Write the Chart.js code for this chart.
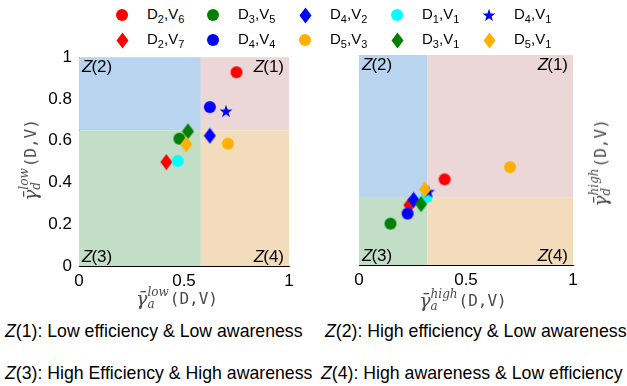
<!DOCTYPE html>
<html>
<head>
<meta charset="utf-8">
<script src="https://cdn.jsdelivr.net/npm/chart.js@4"></script>
<style>
  body { margin: 0; background: #fff; width: 627px; height: 386px; position: relative; overflow: hidden; font-family: 'Liberation Sans', Arial, sans-serif; }
  canvas.chart { position: absolute; }
  .leg { position: absolute; font-size: 15px; color: #000; line-height: 15px; }
  .leg sub { font-size: 11px; vertical-align: -4px; line-height: 0; }
  .mk { position: absolute; }
  .lab { position: absolute; color: #4a4a4a; white-space: nowrap; display: flex; align-items: center; }
  .g { font-family: 'DejaVu Serif', serif; font-style: italic; font-size: 19px; }
  .ss { display: inline-flex; flex-direction: column; font-family: 'DejaVu Serif', serif; font-style: italic; font-size: 12px; line-height: 12px; margin-right: 1px; }
  .m { font-family: 'DejaVu Sans Mono', monospace; font-size: 16px; }
  .note { position: absolute; font-size: 17.7px; line-height: 20px; color: #000; white-space: nowrap; }
  .note i { font-style: italic; }
</style>
</head>
<body>
<canvas id="lowChart" class="chart" width="300" height="270" style="left:0;top:40px"></canvas>
<canvas id="highChart" class="chart" width="327" height="270" style="left:300px;top:40px"></canvas>

<div class="lab" style="left:30px;top:160px;transform:translate(-50%,-50%) rotate(-90deg)">
  <span class="g">γ̄</span><span class="ss"><span>low</span><span>d</span></span><span class="m">(D,V)</span>
</div>
<div class="lab" style="left:177px;top:298px;transform:translate(-50%,-50%)">
  <span class="g">γ̄</span><span class="ss"><span>low</span><span>a</span></span><span class="m">(D,V)</span>
</div>
<div class="lab" style="left:600px;top:163px;transform:translate(-50%,-50%) rotate(-90deg)">
  <span class="g">γ̄</span><span class="ss"><span>high</span><span>d</span></span><span class="m">(D,V)</span>
</div>
<div class="lab" style="left:463px;top:300px;transform:translate(-50%,-50%)">
  <span class="g">γ̄</span><span class="ss"><span>high</span><span>a</span></span><span class="m">(D,V)</span>
</div>

<div class="note" style="left:5px;top:321px"><i>Z</i>(1): Low efficiency &amp; Low awareness</div>
<div class="note" style="left:325px;top:321px"><i>Z</i>(2): High efficiency &amp; Low awareness</div>
<div class="note" style="left:5px;top:363px"><i>Z</i>(3): High Efficiency &amp; High awareness</div>
<div class="note" style="left:321px;top:363px"><i>Z</i>(4): High awareness &amp; Low efficiency</div>

<div id="legend"></div>

<script>
// ---- data ----
const seriesD = [2, 2, 3, 4, 4, 5, 1, 3, 4, 5];
const seriesV = [6, 7, 5, 4, 2, 3, 1, 1, 1, 1];

const lowX  = [0.750, 0.416, 0.478, 0.623, 0.623, 0.709, 0.470, 0.519, 0.700, 0.511];
const lowY  = [0.928, 0.498, 0.610, 0.761, 0.624, 0.586, 0.503, 0.645, 0.742, 0.583];
const highX = [0.400, 0.235, 0.147, 0.227, 0.255, 0.706, 0.316, 0.290, 0.325, 0.308];
const highY = [0.408, 0.285, 0.197, 0.245, 0.310, 0.466, 0.324, 0.290, 0.350, 0.359];

// zone borders [x, y]
const lowSplit  = [0.58, 0.65];
const highSplit = [0.32, 0.32];

const xTicks = [0, 0.5, 1];
const yTicks = [0, 0.2, 0.4, 0.6, 0.8, 1];

// ---- styles ----
const shapes = ['circle', 'diamond', 'circle', 'circle', 'diamond', 'circle', 'circle', 'diamond', 'star', 'diamond'];
const colors = ['#ff0000', '#ff0000', '#008000', '#0000ff', '#0000ff', '#ffb000', '#00ffff', '#008000', '#0000ff', '#ffb000'];
const zoneColors = { z1: '#ebd7d8', z2: '#b9d4ef', z3: '#c2dec7', z4: '#f3dcbb' };

function makeMarker(shape, color) {
    const c = document.createElement('canvas');
    const w = shape === 'diamond' ? 13 : 14;
    const h = shape === 'diamond' ? 17 : 14;
    c.width = w; c.height = h;
    const g = c.getContext('2d');
    g.fillStyle = color;
    g.beginPath();
    if (shape === 'circle') {
        g.arc(w / 2, h / 2, 6, 0, Math.PI * 2);
    } else if (shape === 'diamond') {
        g.moveTo(w / 2, 0.5); g.lineTo(w - 0.5, h / 2); g.lineTo(w / 2, h - 0.5); g.lineTo(0.5, h / 2);
    } else {
        for (let k = 0; k < 10; k++) {
            const r = k % 2 ? 2.7 : 6.8;
            const a = -Math.PI / 2 + k * Math.PI / 5;
            const px = w / 2 + r * Math.cos(a), py = h / 2 + 0.6 + r * Math.sin(a);
            k ? g.lineTo(px, py) : g.moveTo(px, py);
        }
    }
    g.closePath();
    g.fill();
    return c;
}

const markers = shapes.map((s, i) => makeMarker(s, colors[i]));

// legend, filled column by column
const legend = document.getElementById('legend');
const legX = [122, 213, 305, 397, 489];
const legY = [15, 40];
seriesD.forEach((d, i) => {
    const col = Math.floor(i / 2), row = i % 2;
    const m = makeMarker(shapes[i], colors[i]);
    m.className = 'mk';
    m.style.left = (legX[col] - m.width / 2) + 'px';
    m.style.top = (legY[row] - m.height / 2) + 'px';
    legend.appendChild(m);
    const t = document.createElement('div');
    t.className = 'leg';
    t.style.left = (legX[col] + 25) + 'px';
    t.style.top = (legY[row] - 9) + 'px';
    t.innerHTML = `D<sub>${d}</sub>,V<sub>${seriesV[i]}</sub>`;
    legend.appendChild(t);
});

const zonesPlugin = {
    id: 'zones',
    beforeDatasetsDraw(chart, args, opts) {
        const { ctx, chartArea: a, scales: { x, y } } = chart;
        const sx = x.getPixelForValue(opts.split[0]);
        const sy = y.getPixelForValue(opts.split[1]);
        ctx.save();
        ctx.fillStyle = zoneColors.z2; ctx.fillRect(a.left, a.top, sx - a.left, sy - a.top);
        ctx.fillStyle = zoneColors.z1; ctx.fillRect(sx, a.top, a.right - sx, sy - a.top);
        ctx.fillStyle = zoneColors.z3; ctx.fillRect(a.left, sy, sx - a.left, a.bottom - sy);
        ctx.fillStyle = zoneColors.z4; ctx.fillRect(sx, sy, a.right - sx, a.bottom - sy);

        const label = (n, px, py, alignRight) => {
            ctx.font = 'italic 17px "Liberation Sans", Arial, sans-serif';
            const wz = ctx.measureText('Z').width;
            ctx.font = '17px "Liberation Sans", Arial, sans-serif';
            const wr = ctx.measureText(`(${n})`).width;
            let x0 = alignRight ? px - wz - wr : px;
            ctx.fillStyle = '#000';
            ctx.textBaseline = 'alphabetic';
            ctx.textAlign = 'left';
            ctx.font = 'italic 17px "Liberation Sans", Arial, sans-serif';
            ctx.fillText('Z', x0, py);
            ctx.font = '17px "Liberation Sans", Arial, sans-serif';
            ctx.fillText(`(${n})`, x0 + wz - 1, py);
        };
        label(2, a.left + 3, a.top + 15, false);
        label(1, a.right - 4, a.top + 15, true);
        label(3, a.left + 3, a.bottom - 4, false);
        label(4, a.right - 4, a.bottom - 4, true);
        ctx.restore();
    }
};

function makeChart(id, xs, ys, split, showY, pad, yWidth, xHeight) {
    const datasets = xs.map((v, i) => ({
        label: `D${seriesD[i]},V${seriesV[i]}`,
        data: [{ x: v, y: ys[i] }],
        pointStyle: markers[i],
        order: xs.length - 1 - i
    }));
    const tickFont = { family: '"Liberation Sans", Arial, sans-serif', size: 17 };
    return new Chart(document.getElementById(id), {
        type: 'scatter',
        data: { datasets },
        options: {
            responsive: false,
            animation: false,
            devicePixelRatio: 1,
            layout: { padding: pad },
            plugins: { legend: { display: false }, tooltip: { enabled: false }, zones: { split } },
            scales: {
                x: {
                    type: 'linear', min: 0, max: 1,
                    afterBuildTicks: s => { s.ticks = xTicks.map(v => ({ value: v })); },
                    afterFit: s => { s.height = xHeight; },
                    grid: { display: false, drawTicks: false },
                    border: { display: true, color: '#000', width: 1 },
                    ticks: { color: '#000', font: tickFont, padding: 5, maxRotation: 0, autoSkip: false, callback: v => String(v) }
                },
                y: {
                    type: 'linear', min: 0, max: 1, display: showY,
                    afterBuildTicks: s => { s.ticks = yTicks.map(v => ({ value: v })); },
                    afterFit: s => { if (showY) s.width = yWidth; },
                    grid: { display: false, drawTicks: false },
                    border: { display: true, color: '#000', width: 1 },
                    ticks: { color: '#000', font: tickFont, padding: 7, callback: v => String(v) }
                }
            }
        },
        plugins: [zonesPlugin]
    });
}

makeChart('lowChart', lowX, lowY, lowSplit, true, { left: 0, top: 17, right: 11, bottom: 0 }, 79, 44);
makeChart('highChart', highX, highY, highSplit, false, { left: 59, top: 15, right: 54, bottom: 0 }, 0, 45);
</script>
</body>
</html>
